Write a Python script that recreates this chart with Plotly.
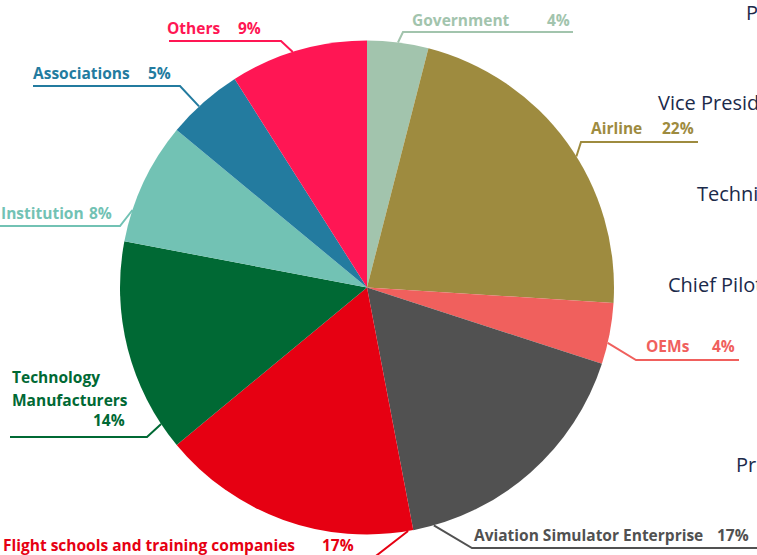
import math
import plotly.graph_objects as go

# ---------------- data ----------------
categories = ["Government", "Airline", "OEMs", "Aviation Simulator Enterprise",
              "Flight schools and training companies", "Technology Manufacturers",
              "Institution", "Associations", "Others"]
shares = [4, 22, 4, 17, 17, 14, 8, 5, 9]
pct_labels = ["4%", "22%", "4%", "17%", "17%", "14%", "8%", "5%", "9%"]
colors = ["#a2c4ad", "#9e8b3f", "#f0605d", "#515151", "#e60012",
          "#006934", "#72c2b4", "#237b9f", "#ff1654"]
# labels of the neighbouring (cut-off) chart on the right
side_labels = ["Pilot", "Vice President", "Technician", "Chief Pilot", "Professor"]

# ---------------- layout config ----------------
W, H = 757, 555
CX, CY, R = 367, 287.5, 247
FS = 15.5
FONT = "Open Sans"

# label layout: t = anchor position inside the slice (0..1),
# elbow point, far end of the horizontal line, name lines, x of name start, x of pct end
label_layout = [
    dict(t=0.50, elbow=(403, 32), end=573, name=["Government"], nx=410, px=572, base=[26], pbase=26, shift=0),
    dict(t=0.55, elbow=(581, 142), end=698, name=["Airline"], nx=589, px=696, base=[134], pbase=134, shift=0),
    dict(t=0.65, elbow=(636, 360), end=739, name=["OEMs"], nx=644, px=737, base=[352], pbase=352, shift=0),
    dict(t=0.92, elbow=(472, 548), end=760, name=["Aviation Simulator Enterprise"], nx=472, px=751, base=[541], pbase=541, shift=0),
    dict(t=0.02, elbow=(372, 559), end=-5, name=["Flight schools and training companies"], nx=1, px=356, base=[551], pbase=551, shift=0),
    dict(t=0.12, elbow=(147, 437), end=10, name=["Technology", "Manufacturers"], nx=10, px=127, base=[383, 406], pbase=426, shift=0),
    dict(t=0.26, elbow=(120, 226), end=-5, name=["Institution"], nx=0, px=114, base=[219], pbase=219, shift=-1),
    dict(t=0.42, elbow=(180, 86), end=33, name=["Associations"], nx=31, px=173, base=[79], pbase=79, shift=0),
    dict(t=0.46, elbow=(281, 41), end=169, name=["Others"], nx=165, px=263, base=[34], pbase=34, shift=0),
]
side_layout = [(744, 20), (656, 110), (695, 201), (666, 292), (734, 472)]

fig = go.Figure()

# pie
fig.add_trace(go.Pie(
    labels=categories, values=shares, sort=False, direction="clockwise", rotation=0,
    marker=dict(colors=colors, line=dict(width=0)),
    textinfo="none", hoverinfo="label+percent", showlegend=False,
    domain=dict(x=[(CX - R) / W, (CX + R) / W], y=[(H - CY - R) / H, (H - CY + R) / H]),
))

total = sum(shares)
cum = 0
annotations = []
for i, (cat, v) in enumerate(zip(categories, shares)):
    a0 = cum / total * 360
    cum += v
    a1 = cum / total * 360
    lay = label_layout[i]
    ang = math.radians(a0 + lay["t"] * (a1 - a0))
    sx = CX + R * math.sin(ang)
    sy = CY - R * math.cos(ang)
    ex, ey = lay["elbow"]
    fig.add_trace(go.Scatter(
        x=[sx, ex, lay["end"]], y=[sy, ey, ey], mode="lines",
        line=dict(color=colors[i], width=2), hoverinfo="skip", showlegend=False,
    ))
    for line, b in zip(lay["name"], lay["base"]):
        annotations.append(dict(
            x=lay["nx"], y=b - 0.36 * FS, xref="x", yref="y", text=line, showarrow=False,
            xanchor="left", yanchor="middle", xshift=lay["shift"],
            font=dict(family=FONT, size=FS, color=colors[i], weight="bold")))
    annotations.append(dict(
        x=lay["px"], y=lay["pbase"] - 0.36 * FS, xref="x", yref="y", text=pct_labels[i], showarrow=False,
        xanchor="right", yanchor="middle",
        font=dict(family=FONT, size=FS, color=colors[i], weight="bold")))

for txt, (x, b) in zip(side_labels, side_layout):
    annotations.append(dict(
        x=x, y=b - 0.36 * 20, xref="x", yref="y", text=txt, showarrow=False,
        xanchor="left", yanchor="middle",
        font=dict(family=FONT, size=20, color="#1b2a4a")))

fig.update_layout(
    width=W, height=H, margin=dict(l=0, r=0, t=0, b=0),
    paper_bgcolor="white", plot_bgcolor="white",
    xaxis=dict(range=[0, W], visible=False, fixedrange=True),
    yaxis=dict(range=[H, 0], visible=False, fixedrange=True),
    annotations=annotations,
)

fig.write_html("out.html", config={"displayModeBar": False},
               post_script="document.body.style.margin='0';")
